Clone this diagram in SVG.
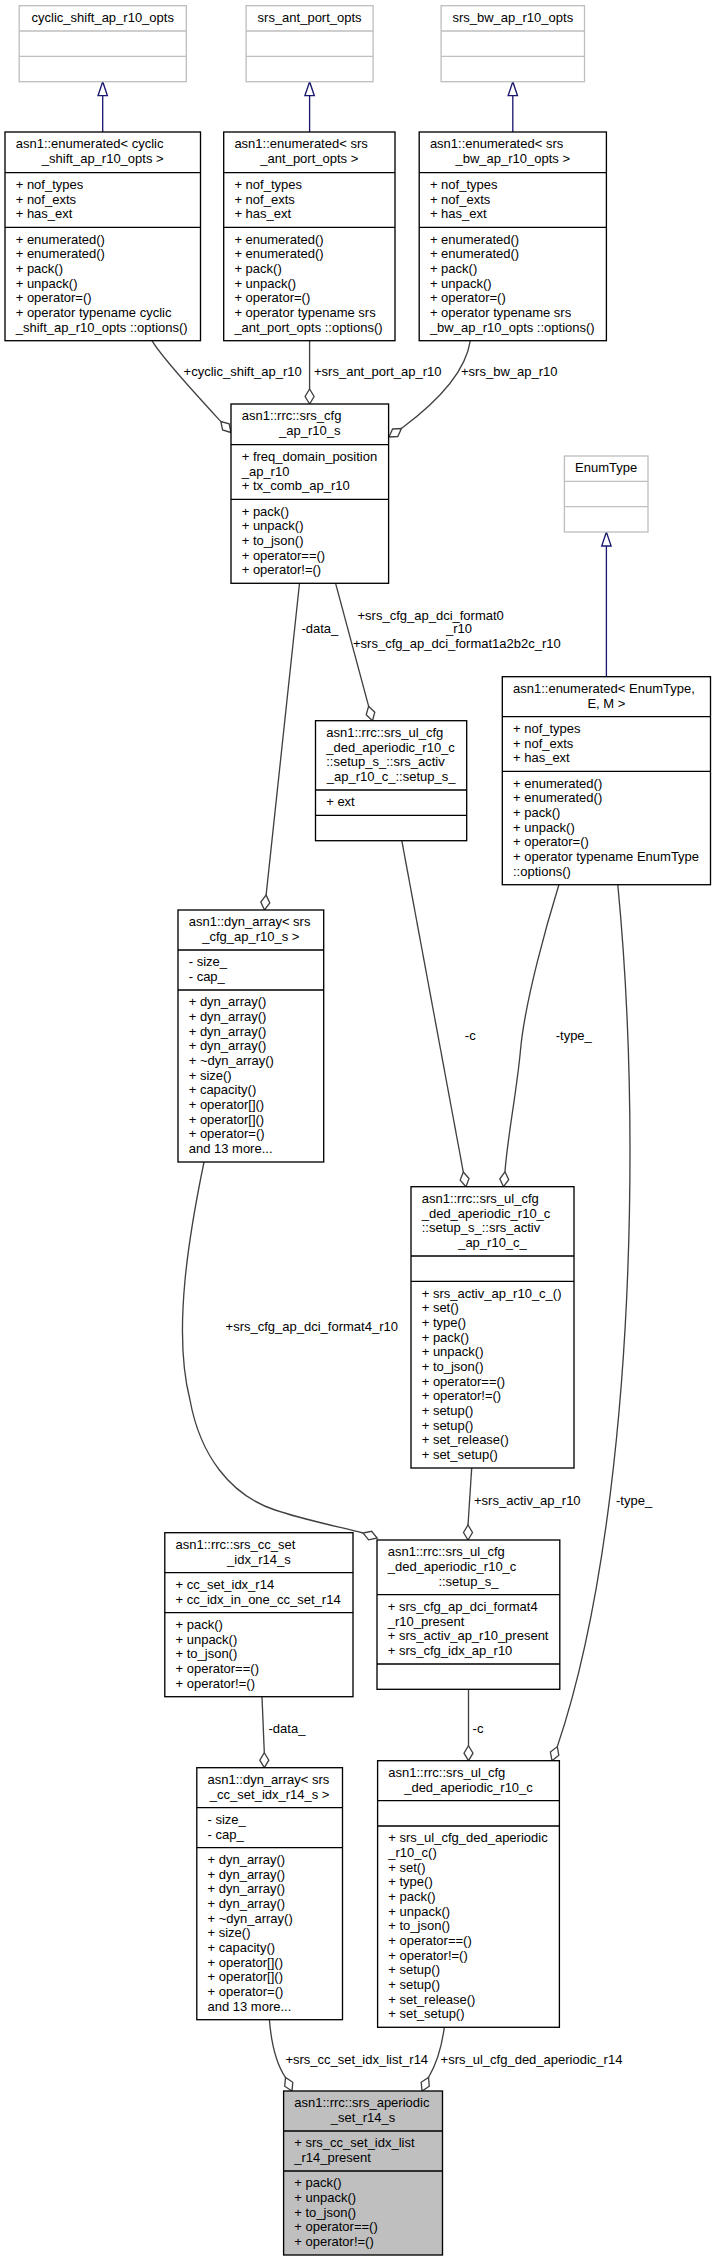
<svg xmlns="http://www.w3.org/2000/svg" width="715" height="2261" viewBox="0 0 715 2261">
<style>
text{font-family:"Liberation Sans",Arial,sans-serif;font-size:13px;fill:#000}
.m{text-anchor:middle}
.b{fill:#fff;stroke:#000;stroke-width:1.33}
.g{fill:#fff;stroke:#bfbfbf;stroke-width:1.33}
.q{fill:#bfbfbf;stroke:#000;stroke-width:1.33}
.sl{stroke:#000;stroke-width:1.33}
.sg{stroke:#bfbfbf;stroke-width:1.33}
.e{fill:none;stroke:#404040;stroke-width:1.33}
.d{fill:#fff;stroke:#404040;stroke-width:1.33}
.i{fill:none;stroke:#191970;stroke-width:1.33}
.t{fill:#fff;stroke:#191970;stroke-width:1.33}
</style>
<g id="connectors">
<path class="i" d="M102.7,95.7V132"/><polygon class="t" points="102.7,81.7 98,95.7 107.4,95.7"/>
<path class="i" d="M309.6,95.7V132"/><polygon class="t" points="309.6,81.7 304.9,95.7 314.3,95.7"/>
<path class="i" d="M512.8,95.7V132"/><polygon class="t" points="512.8,81.7 508.1,95.7 517.5,95.7"/>
<path class="i" d="M606.4,546V676.7"/><polygon class="t" points="606.4,532 601.7,546 611.1,546"/>
<path class="e" d="M152,340.7C162,358 200.5,399.5 220.8,421.5"/><polygon class="d" points="231,432.5 222.6,430 220.8,421.5 229.2,423.9"/>
<text x="183.6" y="376">+cyclic_shift_ap_r10</text>
<path class="e" d="M309.6,340.7V389"/><polygon class="d" points="309.6,404 305.1,396.5 309.6,389 314.1,396.5"/>
<text x="314" y="376">+srs_ant_port_ap_r10</text>
<path class="e" d="M470.3,340.7C466,370 440,400 401.4,428.5"/><polygon class="d" points="389,437 392.6,429 401.4,428.5 397.8,436.5"/>
<text x="461" y="376">+srs_bw_ap_r10</text>
<path class="e" d="M299.5,583.3L266.1,895.1"/><polygon class="d" points="264.5,910 260.8,902 266.1,895.1 269.8,903"/>
<text x="301.4" y="633">-data_</text>
<path class="e" d="M335.6,583.3L368.6,706.2"/><polygon class="d" points="372.5,720.7 366.2,714.7 368.6,706.2 374.8,712.3"/>
<text x="357.5" y="619.5">+srs_cfg_ap_dci_format0</text>
<text x="446" y="633.3">_r10</text>
<text x="353" y="648">+srs_cfg_ap_dci_format1a2b2c_r10</text>
<path class="e" d="M401.8,840.7L463.3,1172"/><polygon class="d" points="466,1186.7 460.2,1180.1 463.3,1172 469,1178.5"/>
<text x="464.8" y="1039.5">-c</text>
<path class="e" d="M558.9,884.7C548,920 525,1000 520.5,1050C517,1090 507,1140 505,1171.8"/><polygon class="d" points="503.5,1186.7 499.8,1178.8 505,1171.8 508.7,1179.7"/>
<text x="555.7" y="1039.5">-type_</text>
<path class="e" d="M617.8,884.7C625,960 630,1060 630,1150C630,1400 602,1615 557.3,1746.6"/><polygon class="d" points="552,1760.7 550.4,1752.1 557.3,1746.6 558.8,1755.3"/>
<text x="616" y="1504.5">-type_</text>
<path class="e" d="M204,1162C190,1230 172,1330 190,1400C200,1455 230,1495 275,1510C305,1520 340,1527 363,1533"/><polygon class="d" points="377.2,1538 368.6,1539.8 363,1533 371.6,1531.3"/>
<text x="225.6" y="1331">+srs_cfg_ap_dci_format4_r10</text>
<path class="e" d="M471.7,1468L468,1525"/><polygon class="d" points="468,1540 463.5,1532.5 468,1525 472.5,1532.5"/>
<text x="474" y="1504.5">+srs_activ_ap_r10</text>
<path class="e" d="M262,1696.7L264.3,1752.7"/><polygon class="d" points="264.3,1767.7 259.8,1760.2 264.3,1752.7 268.8,1760.2"/>
<text x="268.5" y="1733">-data_</text>
<path class="e" d="M468.5,1689.3V1745.7"/><polygon class="d" points="468.5,1760.7 464,1753.2 468.5,1745.7 473,1753.2"/>
<text x="472.6" y="1733">-c</text>
<path class="e" d="M269.4,2019.7C271,2040 275,2062 285.5,2077.5"/><polygon class="d" points="292,2091 284.7,2086.2 285.5,2077.5 292.8,2082.3"/>
<text x="285.4" y="2063.5">+srs_cc_set_idx_list_r14</text>
<path class="e" d="M444.3,2027.3C442,2045 437,2063 428.5,2077.5"/><polygon class="d" points="422,2091 421.2,2082.3 428.5,2077.5 429.3,2086.2"/>
<text x="440.6" y="2063.5">+srs_ul_cfg_ded_aperiodic_r14</text>
</g>
<g id="cyclic_shift_ap_r10_opts">
<rect class="g" x="19.2" y="5.7" width="167.1" height="76"/>
<path class="sg" d="M19.2,31H186.3M19.2,56.3H186.3"/>
<text class="m" x="102.75" y="22">cyclic_shift_ap_r10_opts</text>
</g>
<g id="srs_ant_port_opts">
<rect class="g" x="246.1" y="5.7" width="127" height="76"/>
<path class="sg" d="M246.1,31H373.1M246.1,56.3H373.1"/>
<text class="m" x="309.6" y="22">srs_ant_port_opts</text>
</g>
<g id="srs_bw_ap_r10_opts">
<rect class="g" x="441.1" y="5.7" width="143.4" height="76"/>
<path class="sg" d="M441.1,31H584.5M441.1,56.3H584.5"/>
<text class="m" x="512.8" y="22">srs_bw_ap_r10_opts</text>
</g>
<g id="enum_cyclic">
<rect class="b" x="5" y="132" width="195.5" height="208.7"/>
<path class="sl" d="M5,172.7H200.5M5,227.3H200.5"/>
<text x="15.7" y="148.3">asn1::enumerated&lt; cyclic</text>
<text class="m" x="102.75" y="163">_shift_ap_r10_opts &gt;</text>
<text x="15.7"><tspan x="15.7" y="189">+ nof_types</tspan><tspan x="15.7" y="203.7">+ nof_exts</tspan><tspan x="15.7" y="218.3">+ has_ext</tspan><tspan x="15.7" y="243.6">+ enumerated()</tspan><tspan x="15.7" y="258.3">+ enumerated()</tspan><tspan x="15.7" y="273">+ pack()</tspan><tspan x="15.7" y="287.6">+ unpack()</tspan><tspan x="15.7" y="302.3">+ operator=()</tspan><tspan x="15.7" y="317">+ operator typename cyclic</tspan><tspan x="15.7" y="331.6">_shift_ap_r10_opts ::options()</tspan></text>
</g>
<g id="enum_ant_port">
<rect class="b" x="223.7" y="132" width="171.3" height="208.7"/>
<path class="sl" d="M223.7,172.7H395M223.7,227.3H395"/>
<text x="234.4" y="148.3">asn1::enumerated&lt; srs</text>
<text class="m" x="309.35" y="163">_ant_port_opts &gt;</text>
<text x="234.4"><tspan x="234.4" y="189">+ nof_types</tspan><tspan x="234.4" y="203.7">+ nof_exts</tspan><tspan x="234.4" y="218.3">+ has_ext</tspan><tspan x="234.4" y="243.6">+ enumerated()</tspan><tspan x="234.4" y="258.3">+ enumerated()</tspan><tspan x="234.4" y="273">+ pack()</tspan><tspan x="234.4" y="287.6">+ unpack()</tspan><tspan x="234.4" y="302.3">+ operator=()</tspan><tspan x="234.4" y="317">+ operator typename srs</tspan><tspan x="234.4" y="331.6">_ant_port_opts ::options()</tspan></text>
</g>
<g id="enum_bw">
<rect class="b" x="419.2" y="132" width="187.2" height="208.7"/>
<path class="sl" d="M419.2,172.7H606.4M419.2,227.3H606.4"/>
<text x="429.9" y="148.3">asn1::enumerated&lt; srs</text>
<text class="m" x="512.8" y="163">_bw_ap_r10_opts &gt;</text>
<text x="429.9"><tspan x="429.9" y="189">+ nof_types</tspan><tspan x="429.9" y="203.7">+ nof_exts</tspan><tspan x="429.9" y="218.3">+ has_ext</tspan><tspan x="429.9" y="243.6">+ enumerated()</tspan><tspan x="429.9" y="258.3">+ enumerated()</tspan><tspan x="429.9" y="273">+ pack()</tspan><tspan x="429.9" y="287.6">+ unpack()</tspan><tspan x="429.9" y="302.3">+ operator=()</tspan><tspan x="429.9" y="317">+ operator typename srs</tspan><tspan x="429.9" y="331.6">_bw_ap_r10_opts ::options()</tspan></text>
</g>
<g id="srs_cfg_ap_r10_s">
<rect class="b" x="231" y="404" width="157.6" height="179.3"/>
<path class="sl" d="M231,444.7H388.6M231,499.3H388.6"/>
<text x="241.7" y="420.3">asn1::rrc::srs_cfg</text>
<text class="m" x="309.8" y="435">_ap_r10_s</text>
<text x="241.7"><tspan x="241.7" y="461">+ freq_domain_position</tspan><tspan x="241.7" y="475.7">_ap_r10</tspan><tspan x="241.7" y="490.3">+ tx_comb_ap_r10</tspan><tspan x="241.7" y="515.6">+ pack()</tspan><tspan x="241.7" y="530.3">+ unpack()</tspan><tspan x="241.7" y="545">+ to_json()</tspan><tspan x="241.7" y="559.6">+ operator==()</tspan><tspan x="241.7" y="574.3">+ operator!=()</tspan></text>
</g>
<g id="EnumType">
<rect class="g" x="564.4" y="456" width="83.6" height="76"/>
<path class="sg" d="M564.4,481.3H648M564.4,506.7H648"/>
<text class="m" x="606.2" y="472.3">EnumType</text>
</g>
<g id="enum_EnumType">
<rect class="b" x="502.3" y="676.7" width="208.2" height="208"/>
<path class="sl" d="M502.3,716.7H710.5M502.3,771.3H710.5"/>
<text x="513" y="693">asn1::enumerated&lt; EnumType,</text>
<text class="m" x="606.4" y="707.7">E, M &gt;</text>
<text x="513"><tspan x="513" y="733">+ nof_types</tspan><tspan x="513" y="747.7">+ nof_exts</tspan><tspan x="513" y="762.3">+ has_ext</tspan><tspan x="513" y="787.6">+ enumerated()</tspan><tspan x="513" y="802.3">+ enumerated()</tspan><tspan x="513" y="817">+ pack()</tspan><tspan x="513" y="831.6">+ unpack()</tspan><tspan x="513" y="846.3">+ operator=()</tspan><tspan x="513" y="861">+ operator typename EnumType</tspan><tspan x="513" y="875.6">::options()</tspan></text>
</g>
<g id="activ_setup_s">
<rect class="b" x="315.5" y="720.7" width="151.2" height="120"/>
<path class="sl" d="M315.5,790H466.7M315.5,815.3H466.7"/>
<text x="326.2"><tspan x="326.2" y="737">asn1::rrc::srs_ul_cfg</tspan><tspan x="326.2" y="751.7">_ded_aperiodic_r10_c</tspan><tspan x="326.2" y="766.3">::setup_s_::srs_activ</tspan></text>
<text class="m" x="391.1" y="781">_ap_r10_c_::setup_s_</text>
<text x="326.2" y="806.3">+ ext</text>
</g>
<g id="dyn_array_srs_cfg">
<rect class="b" x="178" y="910" width="145.7" height="252"/>
<path class="sl" d="M178,950H323.7M178,990H323.7"/>
<text x="188.7" y="926.3">asn1::dyn_array&lt; srs</text>
<text class="m" x="250.85" y="941">_cfg_ap_r10_s &gt;</text>
<text x="188.7"><tspan x="188.7" y="966.3">- size_</tspan><tspan x="188.7" y="981">- cap_</tspan><tspan x="188.7" y="1006.3">+ dyn_array()</tspan><tspan x="188.7" y="1021">+ dyn_array()</tspan><tspan x="188.7" y="1035.6">+ dyn_array()</tspan><tspan x="188.7" y="1050.3">+ dyn_array()</tspan><tspan x="188.7" y="1065">+ ~dyn_array()</tspan><tspan x="188.7" y="1079.6">+ size()</tspan><tspan x="188.7" y="1094.3">+ capacity()</tspan><tspan x="188.7" y="1109">+ operator[]()</tspan><tspan x="188.7" y="1123.6">+ operator[]()</tspan><tspan x="188.7" y="1138.3">+ operator=()</tspan><tspan x="188.7" y="1153">and 13 more...</tspan></text>
</g>
<g id="srs_activ_ap_r10_c">
<rect class="b" x="411" y="1186.7" width="163" height="281.3"/>
<path class="sl" d="M411,1256H574M411,1281.3H574"/>
<text x="421.7"><tspan x="421.7" y="1203">asn1::rrc::srs_ul_cfg</tspan><tspan x="421.7" y="1217.7">_ded_aperiodic_r10_c</tspan><tspan x="421.7" y="1232.3">::setup_s_::srs_activ</tspan></text>
<text class="m" x="492.5" y="1247">_ap_r10_c_</text>
<text x="421.7"><tspan x="421.7" y="1297.6">+ srs_activ_ap_r10_c_()</tspan><tspan x="421.7" y="1312.3">+ set()</tspan><tspan x="421.7" y="1327">+ type()</tspan><tspan x="421.7" y="1341.6">+ pack()</tspan><tspan x="421.7" y="1356.3">+ unpack()</tspan><tspan x="421.7" y="1371">+ to_json()</tspan><tspan x="421.7" y="1385.6">+ operator==()</tspan><tspan x="421.7" y="1400.3">+ operator!=()</tspan><tspan x="421.7" y="1415">+ setup()</tspan><tspan x="421.7" y="1429.6">+ setup()</tspan><tspan x="421.7" y="1444.3">+ set_release()</tspan><tspan x="421.7" y="1459">+ set_setup()</tspan></text>
</g>
<g id="srs_cc_set_idx_r14_s">
<rect class="b" x="164.8" y="1532.7" width="188.2" height="164"/>
<path class="sl" d="M164.8,1572.7H353M164.8,1612.7H353"/>
<text x="175.5" y="1549">asn1::rrc::srs_cc_set</text>
<text class="m" x="258.9" y="1563.7">_idx_r14_s</text>
<text x="175.5"><tspan x="175.5" y="1589">+ cc_set_idx_r14</tspan><tspan x="175.5" y="1603.7">+ cc_idx_in_one_cc_set_r14</tspan><tspan x="175.5" y="1629">+ pack()</tspan><tspan x="175.5" y="1643.7">+ unpack()</tspan><tspan x="175.5" y="1658.3">+ to_json()</tspan><tspan x="175.5" y="1673">+ operator==()</tspan><tspan x="175.5" y="1687.7">+ operator!=()</tspan></text>
</g>
<g id="setup_s">
<rect class="b" x="377" y="1540" width="182.8" height="149.3"/>
<path class="sl" d="M377,1594.7H559.8M377,1664H559.8"/>
<text x="387.7"><tspan x="387.7" y="1556.3">asn1::rrc::srs_ul_cfg</tspan><tspan x="387.7" y="1571">_ded_aperiodic_r10_c</tspan></text>
<text class="m" x="468.4" y="1585.7">::setup_s_</text>
<text x="387.7"><tspan x="387.7" y="1611">+ srs_cfg_ap_dci_format4</tspan><tspan x="387.7" y="1625.7">_r10_present</tspan><tspan x="387.7" y="1640.3">+ srs_activ_ap_r10_present</tspan><tspan x="387.7" y="1655">+ srs_cfg_idx_ap_r10</tspan></text>
</g>
<g id="dyn_array_cc_set">
<rect class="b" x="196.8" y="1767.7" width="145.7" height="252"/>
<path class="sl" d="M196.8,1807.7H342.5M196.8,1847.7H342.5"/>
<text x="207.5" y="1784">asn1::dyn_array&lt; srs</text>
<text class="m" x="269.65" y="1798.7">_cc_set_idx_r14_s &gt;</text>
<text x="207.5"><tspan x="207.5" y="1824">- size_</tspan><tspan x="207.5" y="1838.7">- cap_</tspan><tspan x="207.5" y="1864">+ dyn_array()</tspan><tspan x="207.5" y="1878.7">+ dyn_array()</tspan><tspan x="207.5" y="1893.3">+ dyn_array()</tspan><tspan x="207.5" y="1908">+ dyn_array()</tspan><tspan x="207.5" y="1922.7">+ ~dyn_array()</tspan><tspan x="207.5" y="1937.3">+ size()</tspan><tspan x="207.5" y="1952">+ capacity()</tspan><tspan x="207.5" y="1966.7">+ operator[]()</tspan><tspan x="207.5" y="1981.3">+ operator[]()</tspan><tspan x="207.5" y="1996">+ operator=()</tspan><tspan x="207.5" y="2010.7">and 13 more...</tspan></text>
</g>
<g id="srs_ul_cfg_ded_aperiodic_r10_c">
<rect class="b" x="377.6" y="1760.7" width="181.8" height="266.6"/>
<path class="sl" d="M377.6,1800.7H559.4M377.6,1826H559.4"/>
<text x="388.3" y="1777">asn1::rrc::srs_ul_cfg</text>
<text class="m" x="468.5" y="1791.7">_ded_aperiodic_r10_c</text>
<text x="388.3"><tspan x="388.3" y="1842.3">+ srs_ul_cfg_ded_aperiodic</tspan><tspan x="388.3" y="1857">_r10_c()</tspan><tspan x="388.3" y="1871.7">+ set()</tspan><tspan x="388.3" y="1886.3">+ type()</tspan><tspan x="388.3" y="1901">+ pack()</tspan><tspan x="388.3" y="1915.7">+ unpack()</tspan><tspan x="388.3" y="1930.3">+ to_json()</tspan><tspan x="388.3" y="1945">+ operator==()</tspan><tspan x="388.3" y="1959.7">+ operator!=()</tspan><tspan x="388.3" y="1974.3">+ setup()</tspan><tspan x="388.3" y="1989">+ setup()</tspan><tspan x="388.3" y="2003.7">+ set_release()</tspan><tspan x="388.3" y="2018.3">+ set_setup()</tspan></text>
</g>
<g id="srs_aperiodic_set_r14_s">
<rect class="q" x="283.6" y="2091" width="158.9" height="164"/>
<path class="sl" d="M283.6,2131H442.5M283.6,2171H442.5"/>
<text x="294.3" y="2107.3">asn1::rrc::srs_aperiodic</text>
<text class="m" x="363" y="2122">_set_r14_s</text>
<text x="294.3"><tspan x="294.3" y="2147.3">+ srs_cc_set_idx_list</tspan><tspan x="294.3" y="2162">_r14_present</tspan><tspan x="294.3" y="2187.3">+ pack()</tspan><tspan x="294.3" y="2202">+ unpack()</tspan><tspan x="294.3" y="2216.7">+ to_json()</tspan><tspan x="294.3" y="2231.3">+ operator==()</tspan><tspan x="294.3" y="2246">+ operator!=()</tspan></text>
</g>
</svg>
